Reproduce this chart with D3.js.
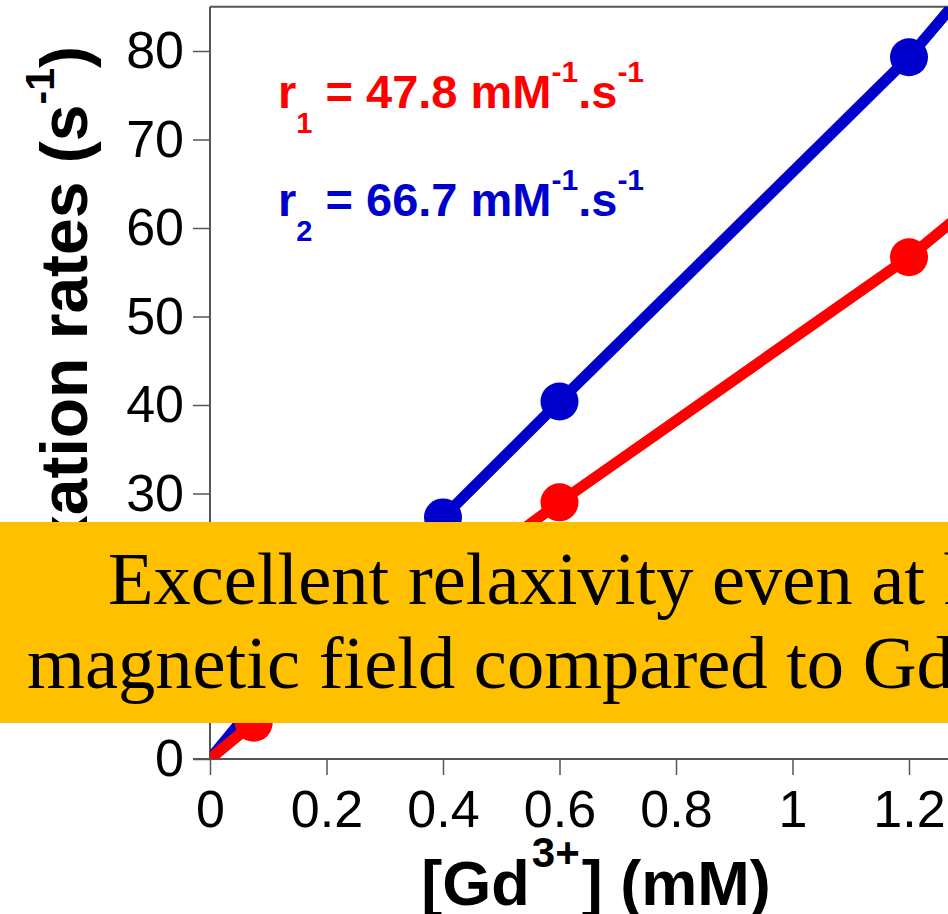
<!DOCTYPE html>
<html>
<head>
<meta charset="utf-8">
<script src="https://cdn.jsdelivr.net/npm/d3@7/dist/d3.min.js"></script>
<style>
    body { margin: 0; overflow: hidden; background: #fff; }
    svg { display: block; }
</style>
</head>
<body>
<div id="chart"></div>
<script>
// concentrations (mM) and relaxation rates (s-1)
var concentrations = [0, 0.075, 0.4, 0.6, 1.2, 1.4];
var r1Rates = [0, 4.1, 19.3, 29.0, 56.7, 67.5];
var r2Rates = [0, 6.0, 27.3, 40.4, 79.3, 94.8];
var markerIdx = [1, 2, 3, 4, 5];

var xTicks = [0, 0.2, 0.4, 0.6, 0.8, 1, 1.2, 1.4];
var yTicks = [0, 10, 20, 30, 40, 50, 60, 70, 80];

var W = 948, H = 914;

var svg = d3.select("#chart")
    .append("svg")
    .attr("width", W)
    .attr("height", H);

var x = d3.scaleLinear().domain([0, 1.4]).range([210, 210 + 582.5 * 1.4]);
var y = d3.scaleLinear().domain([0, 85]).range([759, 6.75]);

var axisColor = "#555";

// clip for the plotting area
svg.append("clipPath")
    .attr("id", "plotClip")
    .append("rect")
    .attr("x", x(0))
    .attr("y", y(85))
    .attr("width", x(1.4) - x(0))
    .attr("height", y(0) - y(85));

// frame top line
svg.append("line")
    .attr("x1", x(0)).attr("x2", x(1.4))
    .attr("y1", y(85)).attr("y2", y(85))
    .attr("stroke", axisColor).attr("stroke-width", 2);

// y axis
var yAxis = svg.append("g")
    .attr("transform", "translate(" + x(0) + ",0)")
    .call(d3.axisLeft(y).tickValues(yTicks).tickSize(17).tickPadding(9).tickFormat(d3.format("d")));

// x axis
var xAxis = svg.append("g")
    .attr("transform", "translate(0," + y(0) + ")")
    .call(d3.axisBottom(x).tickValues(xTicks).tickSize(16).tickPadding(15).tickFormat(function (d) { return String(d); }));

[yAxis, xAxis].forEach(function (g) {
    g.select(".domain").attr("stroke", axisColor).attr("stroke-width", 2);
    g.selectAll(".tick line").attr("stroke", axisColor).attr("stroke-width", 1.5);
    g.selectAll(".tick text")
        .attr("fill", "#000")
        .style("font-family", "Liberation Sans, Arial, sans-serif")
        .style("font-size", "52px");
});
yAxis.select(".domain").attr("d", "M0," + y(85) + "V" + y(0));
xAxis.select(".domain").attr("d", "M" + (x(0) - 17) + ",0H" + x(1.4));

// series
var series = [
    { name: "r2", values: r2Rates, color: "#0000cc" },
    { name: "r1", values: r1Rates, color: "#ff0000" }
];

var plot = svg.append("g").attr("clip-path", "url(#plotClip)");

var line = d3.line()
    .x(function (d) { return x(d[0]); })
    .y(function (d) { return y(d[1]); });

series.forEach(function (s) {
    var pts = concentrations.map(function (c, i) { return [c, s.values[i]]; });
    plot.append("path")
        .datum(pts)
        .attr("d", line)
        .attr("fill", "none")
        .attr("stroke", s.color)
        .attr("stroke-width", 11);
    plot.selectAll(".pt-" + s.name)
        .data(markerIdx.map(function (i) { return pts[i]; }))
        .enter()
        .append("circle")
        .attr("cx", function (d) { return x(d[0]); })
        .attr("cy", function (d) { return y(d[1]); })
        .attr("r", 19)
        .attr("fill", s.color);
});

// relaxivity labels
function relaxLabel(sub, value, color, baseY) {
    var t = svg.append("text")
        .attr("x", 278)
        .attr("y", baseY)
        .attr("fill", color)
        .style("font-family", "Liberation Sans, Arial, sans-serif")
        .style("font-weight", "bold")
        .style("font-size", "47px");
    t.append("tspan").text("r");
    t.append("tspan").attr("dy", 25).style("font-size", "29px").text(sub);
    t.append("tspan").attr("dy", -25).text(" = " + value + " mM");
    t.append("tspan").attr("dy", -26).style("font-size", "30px").text("-1");
    t.append("tspan").attr("dy", 26).text(".s");
    t.append("tspan").attr("dy", -26).style("font-size", "30px").text("-1");
}
relaxLabel("1", "47.8", "#ff0000", 108);
relaxLabel("2", "66.7", "#0000cc", 216);

// axis titles
var xTitle = svg.append("text")
    .attr("x", 596)
    .attr("y", 905)
    .attr("text-anchor", "middle")
    .style("font-family", "Liberation Sans, Arial, sans-serif")
    .style("font-weight", "bold")
    .style("font-size", "63px");
xTitle.append("tspan").text("[Gd");
xTitle.append("tspan").attr("dy", -38).attr("dx", 2).style("font-size", "42px").text("3+");
xTitle.append("tspan").attr("dy", 38).attr("dx", 2).text("] (mM)");

var yTitle = svg.append("text")
    .attr("transform", "translate(87,46) rotate(-90)")
    .attr("text-anchor", "end")
    .style("font-family", "Liberation Sans, Arial, sans-serif")
    .style("font-weight", "bold")
    .style("font-size", "66px");
yTitle.append("tspan").text("Relaxation rates (s");
yTitle.append("tspan").attr("dy", -33).style("font-size", "41px").text("-1");
yTitle.append("tspan").attr("dy", 33).text(")");

// highlight banner
svg.append("rect")
    .attr("x", 0)
    .attr("y", 522)
    .attr("width", 1100)
    .attr("height", 201)
    .attr("fill", "#ffc000");

var bannerLines = ["Excellent relaxivity even at high", "magnetic field compared to Gd-DOTA"];
var bannerX = [108, 27];
var bannerY = [604, 688];
svg.selectAll(".banner-text")
    .data(bannerLines)
    .enter()
    .append("text")
    .attr("class", "banner-text")
    .attr("x", function (d, i) { return bannerX[i]; })
    .attr("y", function (d, i) { return bannerY[i]; })
    .attr("fill", "#000")
    .style("font-family", "Liberation Serif, Times New Roman, serif")
    .style("font-size", "74.5px")
    .text(function (d) { return d; });
</script>
</body>
</html>
